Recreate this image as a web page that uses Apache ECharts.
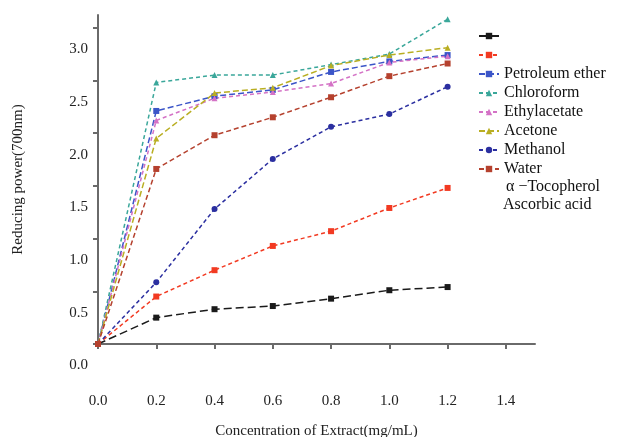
<!DOCTYPE html>
<html>
<head>
<meta charset="utf-8">
<script src="https://cdn.jsdelivr.net/npm/echarts@6/dist/echarts.min.js"></script>
<style>html,body{margin:0;padding:0;background:#fff}#c{width:627px;height:437px}</style>
</head>
<body>
<div id="c"></div>
<script>
const xValues = [0, 0.2, 0.4, 0.6, 0.8, 1.0, 1.2];
const xTicks = [0, 0.2, 0.4, 0.6, 0.8, 1.0, 1.2, 1.4];
const yTicks = [0, 0.5, 1.0, 1.5, 2.0, 2.5, 3.0];
const seriesNames = ['α −Tocopherol', 'Ascorbic acid', 'Petroleum ether', 'Chloroform', 'Ethylacetate', 'Acetone', 'Methanol', 'Water'];
const tocopherol = [0, 0.25, 0.33, 0.36, 0.43, 0.51, 0.54];
const ascorbic = [0, 0.45, 0.70, 0.93, 1.07, 1.29, 1.48];
const petroleum = [0, 2.21, 2.35, 2.41, 2.58, 2.68, 2.74];
const chloroform = [0, 2.48, 2.55, 2.55, 2.65, 2.75, 3.08];
const ethylacetate = [0, 2.12, 2.33, 2.39, 2.47, 2.67, 2.73];
const acetone = [0, 1.95, 2.38, 2.43, 2.64, 2.74, 2.81];
const methanol = [0, 0.585, 1.28, 1.755, 2.06, 2.18, 2.44];
const water = [0, 1.66, 1.98, 2.15, 2.34, 2.54, 2.66];
const extraLegendText = ['α −Tocopherol', 'Ascorbic acid'];

const allData = [tocopherol, ascorbic, petroleum, chloroform, ethylacetate, acetone, methanol, water];
const colors = ['#1a1a1a', '#f23a22', '#3b55c8', '#3aa79a', '#d472c6', '#b9ae22', '#2b2fa0', '#b5412e'];
const symbols = ['rect', 'rect', 'rect', 'triangle', 'triangle', 'triangle', 'circle', 'rect'];
const dashes = [[8,4], [4,3], [6,3], [4,3], [4,3], [6,3], [4,3], [5,3]];
const serif = '"Liberation Serif", "DejaVu Serif", serif';

const chart = echarts.init(document.getElementById('c'));
chart.setOption({
  animation: false,
  textStyle: { fontFamily: serif },
  grid: { left: 98, right: 92, top: 15, bottom: 93, containLabel: false, outerBoundsMode: 'none' },
  xAxis: {
    type: 'value', min: 0, max: 1.5,
    axisLine: { lineStyle: { color: '#6a6a6a', width: 2 } },
    axisTick: { customValues: xTicks, length: 5, lineStyle: { color: '#6a6a6a', width: 2 } },
    axisLabel: { customValues: xTicks, margin: 50, fontSize: 15, color: '#222', fontFamily: serif,
      formatter: v => v.toFixed(1) },
    splitLine: { show: false },
    name: 'Concentration of Extract(mg/mL)', nameLocation: 'middle', nameGap: 80,
    nameTextStyle: { fontSize: 15, color: '#222', fontFamily: serif }
  },
  yAxis: {
    type: 'value', min: 0, max: 3.12,
    axisLine: { show: true, lineStyle: { color: '#6a6a6a', width: 2 } },
    axisTick: { show: true, customValues: yTicks, length: 5, lineStyle: { color: '#6a6a6a', width: 2 } },
    axisLabel: { customValues: yTicks, margin: 10, fontSize: 15, color: '#222', fontFamily: serif,
      verticalAlign: 'top', padding: [14, 0, 0, 0],
      formatter: v => v.toFixed(1) },
    splitLine: { show: false },
    name: 'Reducing power(700nm)', nameLocation: 'middle', nameGap: 72, nameRotate: 90,
    nameTextStyle: { fontSize: 15, color: '#222', fontFamily: serif }
  },
  legend: {
    orient: 'vertical', left: 473, top: 23, itemGap: 3, itemWidth: 20, itemHeight: 8,
    data: seriesNames,
    formatter: name => (extraLegendText.indexOf(name) >= 0 ? '\u00a0' : name),
    textStyle: { fontSize: 16, color: '#111', fontFamily: serif }
  },
  graphic: extraLegendText.map((t, i) => ({
    type: 'text', left: i === 0 ? 506 : 503, top: 179 + i * 18,
    style: { text: t, font: '16px ' + serif, fill: '#111' }
  })),
  series: seriesNames.map((n, i) => ({
    name: n, type: 'line',
    data: xValues.map((x, j) => [x, allData[i][j]]),
    symbol: symbols[i], symbolSize: 6, showAllSymbol: true,
    itemStyle: { color: colors[i] },
    lineStyle: { color: colors[i], width: 1.5, type: dashes[i] }
  }))
});
</script>
</body>
</html>
